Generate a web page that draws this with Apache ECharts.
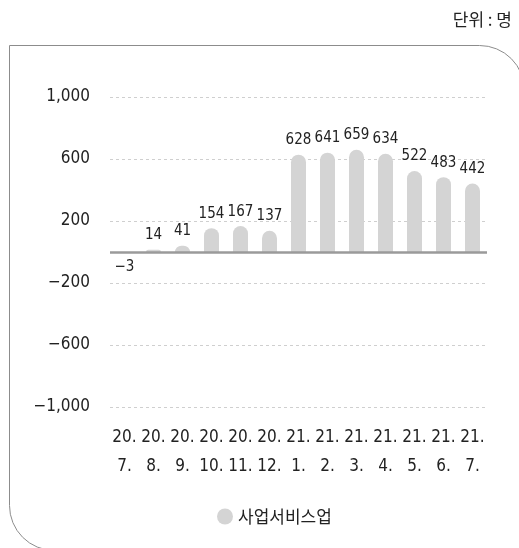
<!DOCTYPE html>
<html><head><meta charset="utf-8">
<script src="https://cdn.jsdelivr.net/npm/echarts@6/dist/echarts.min.js"></script>
<style>html,body{margin:0;padding:0;background:#fff}#c{width:519px;height:548px}</style>
</head><body><div id="c"></div>
<script>
var categories = ['20.\n7.', '20.\n8.', '20.\n9.', '20.\n10.', '20.\n11.', '20.\n12.', '21.\n1.', '21.\n2.', '21.\n3.', '21.\n4.', '21.\n5.', '21.\n6.', '21.\n7.'];
var seriesName = '사업서비스업';
var values = [-3, 14, 41, 154, 167, 137, 628, 641, 659, 634, 522, 483, 442];
var unitText = '단위 : 명';
var yMin = -1000, yMax = 1000, yStep = 400;

var NUM_FONT = "'DejaVu Sans Condensed', 'Liberation Sans Narrow', sans-serif";
var KR_FONT = "'Noto Sans CJK KR', sans-serif";
function fmt(v) {
  var s = Math.abs(v).toString().replace(/\B(?=(\d{3})+(?!\d))/g, ',');
  return (v < 0 ? '\u2212' : '') + s;
}
var chart = echarts.init(document.getElementById('c'), null, {renderer: 'canvas'});
chart.setOption({
  animation: false,
  graphic: [
    {type: 'rect', shape: {x: 9.5, y: 45.5, width: 515, height: 505, r: [0, 45, 0, 45]},
     style: {fill: 'none', stroke: '#8c8c8c', lineWidth: 1}, silent: true},
    {type: 'text', right: 7, top: 11, style: {text: unitText, fontSize: 17, fontFamily: KR_FONT, fill: '#222'}}
  ],
  legend: {
    data: [seriesName], left: 212, top: 503, icon: 'circle', itemWidth: 16, itemHeight: 16, itemGap: 8,
    textStyle: {fontFamily: KR_FONT, fontSize: 17, color: '#222'}
  },
  grid: {left: 110, right: 32, top: 97, bottom: 141},
  xAxis: {
    type: 'category', data: categories, position: 'bottom',
    axisLine: {show: false}, axisTick: {show: false},
    axisLabel: {fontFamily: NUM_FONT, fontSize: 17, color: '#222', lineHeight: 29, margin: 16, interval: 0}
  },
  yAxis: {
    type: 'value', min: yMin, max: yMax, interval: yStep,
    axisLine: {show: false}, axisTick: {show: false},
    axisLabel: {fontFamily: NUM_FONT, fontSize: 17, color: '#222', margin: 20, formatter: fmt},
    splitLine: {lineStyle: {color: '#cfcfcf', type: [3, 3], width: 1}}
  },
  series: [{
    name: seriesName, type: 'bar', barWidth: 15,
    data: values.map(function (v) {
      return v < 0 ? {value: v, label: {position: 'bottom'}, itemStyle: {borderRadius: [0, 0, 7.5, 7.5]}} : v;
    }),
    itemStyle: {color: '#d4d4d4', borderRadius: [7.5, 7.5, 0, 0]},
    label: {show: true, position: 'top', distance: 7, fontFamily: NUM_FONT, fontSize: 15, color: '#222', formatter: function (p) { return fmt(p.value); }},
    markLine: {
      silent: true, symbol: 'none', label: {show: false},
      lineStyle: {color: '#9a9a9a', width: 2.5, type: 'solid'},
      data: [{yAxis: 0}]
    }
  }]
});
</script></body></html>
